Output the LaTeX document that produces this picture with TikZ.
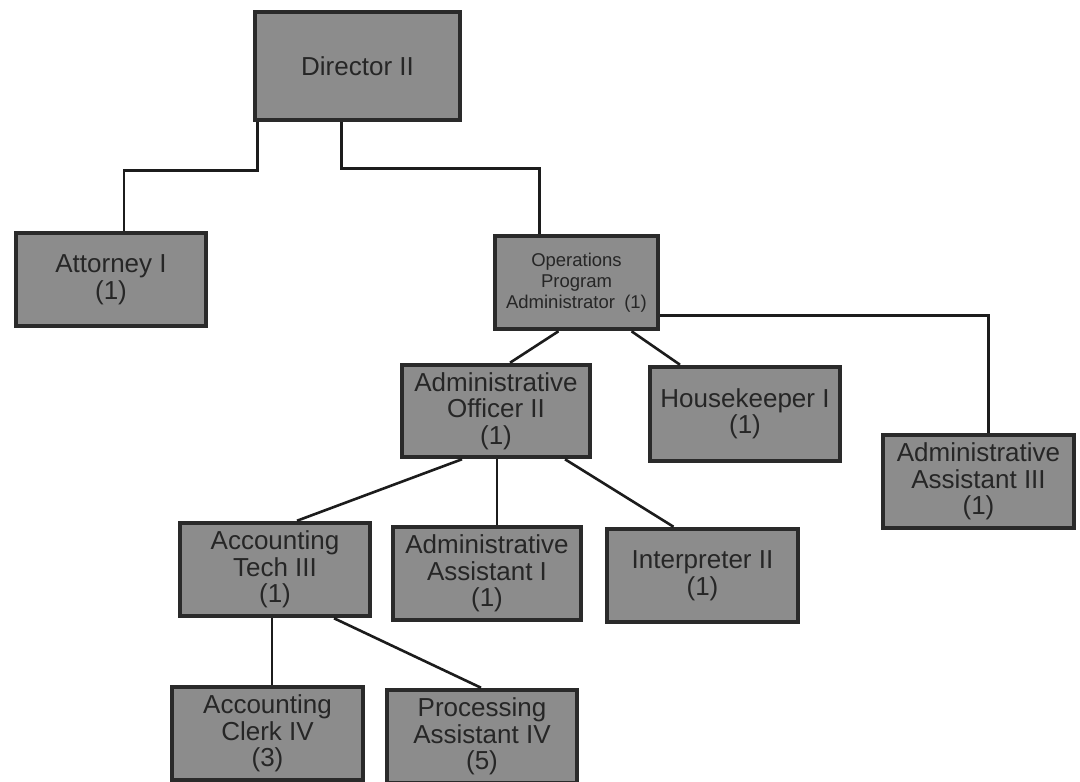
\documentclass[tikz,border=0pt]{standalone}
\usepackage{fontspec}
\setmainfont{Liberation Sans}
\usetikzlibrary{calc}
\definecolor{boxfill}{HTML}{8C8C8C}
\definecolor{boxedge}{HTML}{2A2A2A}
\definecolor{inktext}{HTML}{262626}
\definecolor{wire}{HTML}{1C1C1C}
\begin{document}
\begin{tikzpicture}[x=1pt,y=-1pt,
  post/.style={rectangle, draw=boxedge, line width=4.5pt, fill=boxfill,
    text=inktext, align=center, inner sep=0pt,
    minimum width=190pt, minimum height=93pt,
    font=\fontsize{26}{26.5}\selectfont},
  small/.style={font=\fontsize{18.5}{21}\selectfont},
  link/.style={draw=wire, line width=2.6pt}]
\clip (0,0) rectangle (1080,782);
\fill[white] (0,0) rectangle (1080,782);

% positions
\node[post, minimum width=205pt, minimum height=108pt] (dir) at (357.5,66) {Director II};
\node[post] (att) at (111,279.5) {Attorney I\\(1)};
\node[post, small, minimum width=163pt] (ops) at (576.5,282.5) {Operations\\Program\\Administrator\enspace(1)};
\node[post, minimum width=188pt, minimum height=92pt] (ao) at (496,411) {Administrative\\Officer II\\(1)};
\node[post, minimum height=94pt] (hk) at (745,414) {Housekeeper I\\(1)};
\node[post, minimum width=191pt] (aa3) at (978.5,481.5) {Administrative\\Assistant III\\(1)};
\node[post] (at3) at (275,569.5) {Accounting\\Tech III\\(1)};
\node[post, minimum width=188pt] (aa1) at (487,573.5) {Administrative\\Assistant I\\(1)};
\node[post, minimum width=191pt] (int) at (702.5,575.5) {Interpreter II\\(1)};
\node[post, minimum width=191pt] (ack) at (267.5,733.5) {Accounting\\Clerk IV\\(3)};
\node[post] (pa4) at (482,736.5) {Processing\\Assistant IV\\(5)};

% reporting lines
\draw[link] ($(dir.south west)+(5,0)$) -- ++(0,48) -| ($(att.north)+(13,0)$);
\draw[link] ($(dir.south)+(-16,0)$) -- ++(0,46) -| ($(ops.north)+(-37,0)$);
\draw[link] ($(ops.south)+(-18,0)$) -- ($(ao.north)+(14,0)$);
\draw[link] ($(ops.south)+(55,0)$) -- ($(hk.north)+(-65,0)$);
\draw[link] ($(ops.east)+(0,33)$) -| ($(aa3.north)+(10,0)$);
\draw[link] ($(ao.south)+(-34,0)$) -- ($(at3.north)+(22,0)$);
\draw[link] ($(ao.south)+(1,0)$) -- ($(aa1.north)+(10,0)$);
\draw[link] ($(ao.south)+(69,0)$) -- ($(int.north)+(-29,0)$);
\draw[link] ($(at3.south)+(-3,0)$) -- ($(ack.north)+(4.5,0)$);
\draw[link] ($(at3.south)+(59,0)$) -- ($(pa4.north)+(-1,0)$);
\end{tikzpicture}
\end{document}
